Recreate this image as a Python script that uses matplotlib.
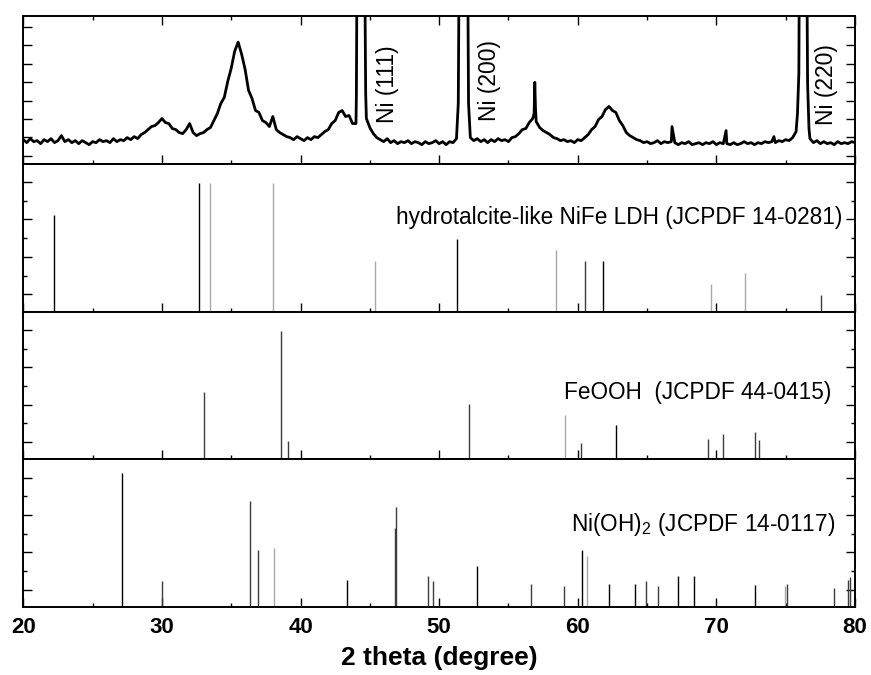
import numpy as np
import matplotlib.pyplot as plt
from matplotlib.ticker import MultipleLocator

plt.rcParams['font.family'] = ['Liberation Sans', 'DejaVu Sans']
plt.rcParams['mathtext.fontset'] = 'custom'
plt.rcParams['mathtext.rm'] = 'Liberation Sans'
plt.rcParams['mathtext.it'] = 'Liberation Sans:italic'
plt.rcParams['mathtext.bf'] = 'Liberation Sans:bold'
plt.rcParams['mathtext.default'] = 'rm'

# measured pattern (a.u.), read every 0.25 deg from 20 to 80
xrd_2theta = np.arange(20, 80.001, 0.25)
xrd_int = [
    24, 21, 25, 22,  23, 20, 24, 22,  25, 21, 23, 28,  22, 24, 21, 23,   # 20-23
    20, 23, 21, 19,  22, 21, 24, 22,  23, 21, 25, 22,  24, 23, 26, 24,   # 24-27
    27, 25, 29, 31,  34, 37, 38, 41,  45, 41, 40, 35,  34, 31, 30, 34,   # 28-31
    40, 31, 28, 30,  31, 34, 36, 43,  50, 60, 66, 82,  95, 112, 121, 109,  # 32-35
    94, 73, 65, 53,  51, 43, 41, 37,  47, 34, 31, 29,  27, 26, 24, 27,   # 36-39
    25, 23, 26, 24,  27, 26, 29, 32,  34, 40, 43, 51,  53, 47, 48, 40,   # 40-43
    40, 700, 700, 45,  36, 30, 26, 24,  22, 25, 21, 23,  20, 22, 21, 23,  # 44-47
    20, 22, 21, 19,  22, 20, 21, 23,  20, 22, 19, 22,  21, 25, 500, 900,  # 48-51
    500, 26, 23, 25,  22, 24, 21, 24,  22, 25, 23, 24,  22, 26, 27, 30,  # 52-55
    34, 35, 41, 45,  42, 36, 33, 31,  29, 26, 25, 23,  24, 22, 23, 21,   # 56-59
    24, 23, 26, 29,  34, 37, 44, 47,  54, 57, 53, 51,  43, 38, 31, 28,   # 60-63
    26, 24, 23, 21,  22, 20, 21, 23,  20, 22, 21, 22,  21, 19, 21, 20,   # 64-67
    22, 19, 20, 21,  19, 21, 20, 22,  19, 21, 20, 20,  19, 21, 19, 20,   # 68-71
    22, 20, 21, 19,  21, 20, 22, 21,  22, 21, 23, 22,  24, 23, 26, 32,   # 72-75
    250, 900, 250, 25,  21, 23, 20, 22,  20, 21, 19, 22,  20, 21, 20, 22,  # 76-79
    21,
]
# extra points on the sharp peaks
xrd_extra_2theta = [44.03, 44.08, 44.62, 44.70, 51.38, 51.45, 52.05, 52.12,
                    56.85, 56.90, 56.95, 66.80, 70.70, 74.15, 75.85, 75.95,
                    76.58, 76.68]
xrd_extra_int = [70, 220, 220, 70, 60, 220, 220, 60,
                 50, 81, 55, 37, 33, 27, 50, 90,
                 80, 35]

ni_labels = ['Ni (111)', 'Ni (200)', 'Ni (220)']

# reference cards, relative intensity (%)
ldh_2theta = [22.24, 32.69, 33.46, 37.98, 45.38, 51.29, 58.41, 60.50, 61.82, 69.58, 72.03, 77.56]
ldh_int = [75, 100, 100, 100, 39, 56, 48, 39, 39, 21, 30, 13]
ldh_shade = ['k', 'k', 'g', 'g', 'g', 'k', 'g', 'd', 'k', 'g', 'g', 'd']

feooh_2theta = [33.05, 38.56, 39.13, 52.13, 59.08, 60.26, 62.73, 69.39, 70.47, 72.75, 73.11]
feooh_int = [52, 100, 14, 43, 34, 13, 27, 16, 20, 21, 15]
feooh_shade = ['d', 'd', 'd', 'd', 'g', 'd', 'k', 'd', 'd', 'd', 'd']

nioh_2theta = [27.09, 29.98, 36.35, 36.90, 38.07, 43.36, 46.82, 46.92, 49.20, 49.56,
               52.76, 56.65, 58.98, 60.33, 60.69, 62.23, 64.12, 64.92, 65.78, 67.22,
               68.38, 72.78, 74.92, 75.11, 78.52, 79.48, 79.65]
nioh_int = [104, 20, 82, 44, 46, 21, 61, 78, 24, 20,
            32, 18, 16, 44, 40, 18, 18, 20, 16, 24,
            24, 17, 16, 18, 15, 21, 23]
nioh_shade = ['k', 'd', 'd', 'd', 'g', 'k', 'd', 'd', 'd', 'd',
              'k', 'd', 'd', 'k', 'g', 'k', 'k', 'd', 'd', 'k',
              'k', 'k', 'g', 'd', 'd', 'd', 'd']

card_labels = ['hydrotalcite-like NiFe LDH (JCPDF 14-0281)',
               'FeOOH  (JCPDF 44-0415)',
               'Ni(OH)$_2$ (JCPDF 14-0117)']

shade_colors = {'k': '#000000', 'd': '#3c3c3c', 'g': '#a8a8a8'}

fig, axes = plt.subplots(4, 1, sharex=True, figsize=(8.71, 6.75), dpi=100)
fig.subplots_adjust(left=23.3 / 871, right=855 / 871, top=1 - 16 / 675,
                    bottom=1 - 607 / 675, hspace=0)

# measured pattern
x_all = np.concatenate([xrd_2theta, xrd_extra_2theta])
y_all = np.concatenate([xrd_int, xrd_extra_int])
order = np.argsort(x_all)
ax0 = axes[0]
ax0.plot(x_all[order], y_all[order], color='black', lw=2.0)
ax0.set_ylim(0, 147)
ax0.yaxis.set_major_locator(MultipleLocator(18.3, offset=8))
for lab, xp, yp in zip(ni_labels, [46.27, 53.65, 77.98], [79, 83, 79]):
    ax0.text(xp, yp, lab, rotation=90, ha='center', va='center', fontsize=16.5)

# stick patterns
cards = [(ldh_2theta, ldh_int, ldh_shade),
         (feooh_2theta, feooh_int, feooh_shade),
         (nioh_2theta, nioh_int, nioh_shade)]
text_pos = [(79.1, 67.7), (78.28, 46.6), (78.6, 59.0)]
for ax, (pos, inten, shade), lab, (tx, ty) in zip(axes[1:], cards, card_labels, text_pos):
    ax.vlines(pos, 0, inten, colors=[shade_colors[s] for s in shade], lw=1.0)
    ax.set_ylim(0, 114.8)
    ax.yaxis.set_major_locator(MultipleLocator(29.1, offset=13.3))
    ax.yaxis.set_minor_locator(MultipleLocator(29.1, offset=27.85))
    ax.text(tx, ty, lab, ha='right', va='baseline', fontsize=16.3)

for i, ax in enumerate(axes):
    ax.set_xlim(20, 80)
    ax.xaxis.set_major_locator(MultipleLocator(10))
    ax.xaxis.set_minor_locator(MultipleLocator(5))
    ax.tick_params(which='both', direction='in', right=True, top=(i == 0),
                   labelleft=False, width=1.0)
    ax.tick_params(which='major', length=6.5)
    ax.tick_params(which='minor', length=3)
    for sp in ax.spines.values():
        sp.set_linewidth(1.4)

axes[-1].tick_params(axis='x', labelsize=16, pad=7)
for t in axes[-1].get_xticklabels():
    t.set_fontweight('bold')
axes[-1].set_xlabel('2 theta (degree)', fontsize=19, fontweight='bold', labelpad=6)

fig.savefig('out.png', dpi=100)
